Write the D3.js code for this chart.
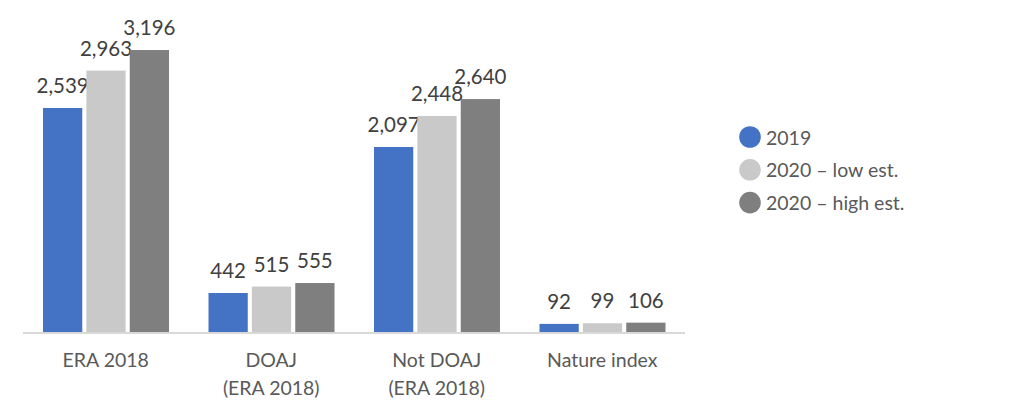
<!DOCTYPE html>
<html><head><meta charset="utf-8">
<script src="https://cdn.jsdelivr.net/npm/d3@7"></script>
<style>body{margin:0;background:#fff}svg{display:block}</style>
</head><body><svg id="c" width="1022" height="413"></svg>
<script>
const categories = [["ERA 2018"], ["DOAJ", "(ERA 2018)"], ["Not DOAJ", "(ERA 2018)"], ["Nature index"]];
const seriesNames = ["2019", "2020 \u2013 low est.", "2020 \u2013 high est."];
const values2019 = [2539, 442, 2097, 92];
const valuesLow = [2963, 515, 2448, 99];
const valuesHigh = [3196, 555, 2640, 106];
const colors = ["#4472C4", "#C9C9C9", "#7F7F7F"];

const svg = d3.select("#c");
const font = "Lato, 'Open Sans', sans-serif";
const baseY = 332, x0 = 23, x1 = 685;
const y = d3.scaleLinear().domain([0, 3500]).range([baseY, baseY - 308.8]);
const x = d3.scaleBand().domain(d3.range(categories.length)).range([x0, x1]).paddingInner(0).paddingOuter(0);
const sub = d3.scaleBand().domain(d3.range(3)).range([20, x.bandwidth() - 19.5]).paddingInner(0.095);
const series = [values2019, valuesLow, valuesHigh];
const fmt = d3.format(",");

series.forEach((vals, si) => {
  const g = svg.append("g");
  g.selectAll("rect").data(vals).join("rect")
    .attr("x", (d, i) => x(i) + sub(si))
    .attr("width", sub.bandwidth())
    .attr("y", d => y(d))
    .attr("height", d => baseY - y(d))
    .attr("fill", colors[si]);
  g.selectAll("text").data(vals).join("text")
    .attr("x", (d, i) => x(i) + sub(si) + sub.bandwidth() / 2)
    .attr("y", d => y(d) - 15)
    .attr("text-anchor", "middle")
    .attr("font-family", font).attr("font-size", 20.5)
    .attr("fill", "#404040")
    .text(d => fmt(d));
});

svg.append("line").attr("x1", x0).attr("x2", x1).attr("y1", baseY + 1).attr("y2", baseY + 1)
  .attr("stroke", "#D9D9D9").attr("stroke-width", 2);

categories.forEach((lines, i) => {
  const t = svg.append("text").attr("text-anchor", "middle")
    .attr("font-family", font).attr("font-size", 19.5).attr("fill", "#595959");
  lines.forEach((l, j) => t.append("tspan").attr("x", x(i) + x.bandwidth() / 2).attr("y", 367 + j * 28).text(l));
});

const leg = svg.append("g");
seriesNames.forEach((n, i) => {
  const cy = 137 + i * 32.8;
  leg.append("circle").attr("cx", 750).attr("cy", cy).attr("r", 10.8).attr("fill", colors[i]);
  leg.append("text").attr("x", 766).attr("y", cy + 7.5)
    .attr("font-family", font).attr("font-size", 19.5).attr("fill", "#595959").text(n);
});
</script></body></html>
